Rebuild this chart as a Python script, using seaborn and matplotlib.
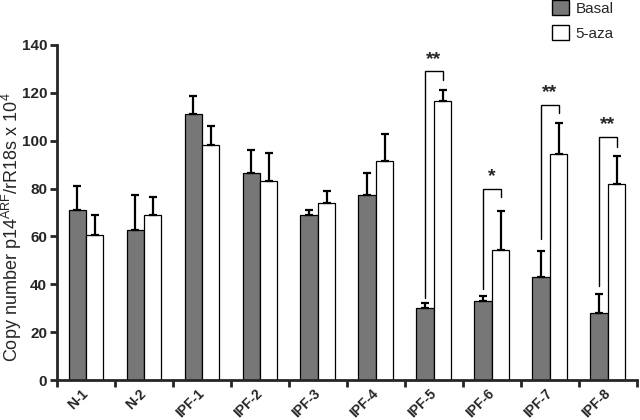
import matplotlib
matplotlib.use("Agg")
import matplotlib.pyplot as plt
import seaborn as sns
import pandas as pd
import numpy as np
from matplotlib.patches import Patch

categories = ["N-1", "N-2", "IPF-1", "IPF-2", "IPF-3", "IPF-4", "IPF-5", "IPF-6", "IPF-7", "IPF-8"]
basal = [71, 62.5, 111, 86.5, 69, 77.5, 30, 33, 43, 28]
basal_err = [10, 15, 7.5, 9.5, 2, 9, 2, 2, 11, 8]
aza = [60.5, 69, 98, 83, 74, 91.5, 116.5, 54.5, 94.5, 82]
aza_err = [8.5, 7.5, 8, 12, 5, 11.5, 4.5, 16, 13, 11.5]
yticks = [0, 20, 40, 60, 80, 100, 120, 140]

# significance brackets
br_groups = ["IPF-5", "IPF-6", "IPF-7", "IPF-8"]
br_top = [129, 80, 115, 101.5]
br_left_bottom = [34.5, 38, 59, 39.5]
br_right_bottom = [125.5, 76.5, 111.5, 97.5]
br_stars = ["**", "*", "**", "**"]

sns.set_style("ticks")
plt.rcParams["font.family"] = ["Liberation Sans", "DejaVu Sans"]

df = pd.DataFrame({
    "group": categories * 2,
    "value": basal + aza,
    "treat": ["Basal"] * len(categories) + ["5-aza"] * len(categories),
})

fig = plt.figure(figsize=(6.4, 4.2), dpi=100)
ax = fig.add_axes([0.089, 0.095, 0.906, 0.798])

sns.barplot(data=df, x="group", y="value", hue="treat", order=categories,
            hue_order=["Basal", "5-aza"],
            palette={"Basal": "#777777", "5-aza": "white"},
            edgecolor="black", linewidth=0.9, width=0.6, errorbar=None,
            ax=ax, legend=False)

errs = [basal_err, aza_err]
vals = [basal, aza]
bar_containers = list(ax.containers)
centers = {}
for k, cont in enumerate(bar_containers):
    xs = [p.get_x() + p.get_width() / 2 for p in cont.patches]
    centers[k] = xs
for k in range(2):
    ax.errorbar(centers[k], vals[k], yerr=[np.zeros(len(categories)), errs[k]], fmt="none",
                ecolor="black", elinewidth=1.6, capsize=3, capthick=1.6, zorder=3)

for g, top, lb, rb, s in zip(br_groups, br_top, br_left_bottom, br_right_bottom, br_stars):
    i = categories.index(g)
    xl = centers[0][i]
    xr = centers[1][i]
    ax.plot([xl, xl, xr, xr], [lb, top, top, rb], color="black", lw=1.0,
            solid_joinstyle="miter", clip_on=False, zorder=4)
    ax.text((xl + xr) / 2, top + 1.5, s, ha="center", va="bottom",
            fontsize=14, fontweight="bold")

ax.set_ylim(0, 140)
ax.set_xlim(-0.5, len(categories) - 0.5)
ax.set_yticks(yticks)
ax.set_yticklabels([str(t) for t in yticks], fontweight="bold", fontsize=11)
ax.set_xticks(np.arange(len(categories)))
ax.set_xticklabels(categories, rotation=45, ha="right", va="center",
                   rotation_mode="anchor", fontweight="bold", fontsize=10)
ax.tick_params(axis="x", length=0, pad=8)
ax.set_xticks(np.arange(-0.5, len(categories)), minor=True)
ax.tick_params(axis="x", which="minor", length=5, width=2, direction="out")
ax.tick_params(axis="y", length=5, width=2, direction="out", pad=2)
ax.set_xlabel("")
ax.set_ylabel("Copy number p14$^{\\mathregular{ARF}}$/rR18s x 10$^{\\mathregular{4}}$",
              fontsize=13)
ax.yaxis.set_label_coords(-0.057, 0.455)
for sp in ["top", "right"]:
    ax.spines[sp].set_visible(False)
for sp in ["left", "bottom"]:
    ax.spines[sp].set_linewidth(2)

handles = [Patch(facecolor="#777777", edgecolor="black", linewidth=1.0, label="Basal"),
           Patch(facecolor="white", edgecolor="black", linewidth=1.0, label="5-aza")]
fig.legend(handles=handles, loc="upper left", bbox_to_anchor=(0.8625, 1.0),
           frameon=False, handlelength=1.1, handleheight=1.1, handletextpad=0.45,
           labelspacing=0.65, fontsize=11, borderpad=0, borderaxespad=0)

fig.savefig("out.png", dpi=100)
